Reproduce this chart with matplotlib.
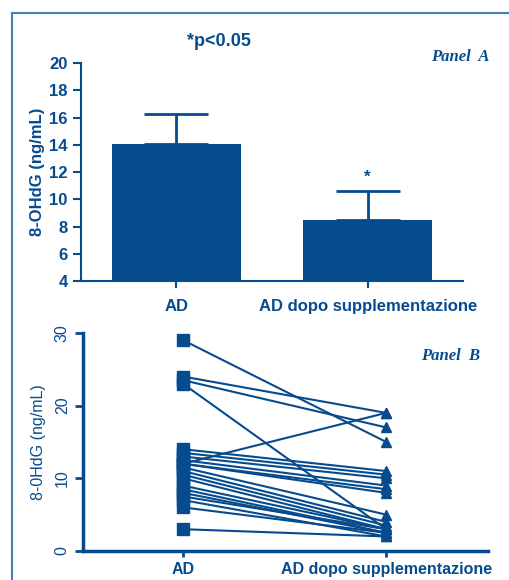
import matplotlib.pyplot as plt
from matplotlib.lines import Line2D

BLUE = "#064b8e"
FRAME = "#4a7dbb"

# Panel A
groups = ["AD", "AD dopo supplementazione"]
means = [14.1, 8.5]
upper_err = [2.2, 2.1]

# Panel B (paired subjects)
ad_vals = [29, 24, 23.5, 23, 12, 14, 13.5, 13, 12.5, 12, 12, 11.5,
           11, 10.5, 10, 9, 8.5, 8, 7.5, 7, 6, 3]
post_vals = [15, 19, 17, 3, 19, 11, 10.5, 10, 9, 8.5, 8, 5,
             4, 3.5, 3, 3, 2.5, 2.5, 3, 2, 2.5, 2]

plt.rcParams['font.family'] = ['Liberation Sans', 'DejaVu Sans']

fig = plt.figure(figsize=(5.09, 5.80), dpi=100)

# frame lines (left and top)
fig.add_artist(Line2D([0.0236, 0.0236], [0.0, 0.978], color=FRAME, lw=1.5,
                      transform=fig.transFigure))
fig.add_artist(Line2D([0.0236, 1.0], [0.978, 0.978], color=FRAME, lw=1.5,
                      transform=fig.transFigure))

# ---- Panel A ----
ax1 = fig.add_axes([0.159, 0.5155, 0.751, 0.3755])
x = [0, 1]
ax1.bar(x, means, width=0.675, color=BLUE, zorder=2)
ax1.errorbar(x, means, yerr=[[0, 0], upper_err], fmt="none", ecolor=BLUE,
             elinewidth=2, capsize=23, capthick=2, zorder=1)
ax1.text(1, means[1] + upper_err[1] + 0.5, "*", color=BLUE, ha="center",
         va="bottom", fontsize=12, fontweight="bold")
ax1.set_xlim(-0.5, 1.5)
ax1.set_ylim(4, 20)
ax1.set_yticks(range(4, 21, 2))
ax1.set_xticks(x)
ax1.set_xticklabels(groups, fontsize=12, fontweight="bold", color=BLUE)
ax1.set_ylabel("8-OHdG (ng/mL)", fontsize=12, fontweight="bold", color=BLUE,
               labelpad=3)
for s in ["top", "right"]:
    ax1.spines[s].set_visible(False)
for s in ["left", "bottom"]:
    ax1.spines[s].set_color(BLUE)
    ax1.spines[s].set_linewidth(1.5)
ax1.tick_params(axis="y", colors=BLUE, labelsize=12, width=1.5, length=6)
ax1.tick_params(axis="x", colors=BLUE, width=1.5, length=5, pad=8)
for lbl in ax1.get_yticklabels():
    lbl.set_fontweight("bold")

fig.text(0.43, 0.928, "*p<0.05", color=BLUE, fontsize=13, fontweight="bold",
         ha="center", va="center")
fig.text(0.905, 0.901, "Panel  A", color=BLUE, fontsize=12, ha="center",
         va="center", family="Liberation Serif", style="italic",
         fontweight="bold")

# ---- Panel B ----
ax2 = fig.add_axes([0.163, 0.05, 0.796, 0.376])
for a, p in zip(ad_vals, post_vals):
    ax2.plot([0, 1], [a, p], color=BLUE, lw=1.5, zorder=1)
ax2.plot([0] * len(ad_vals), ad_vals, "s", color=BLUE, ms=8, zorder=2)
ax2.plot([1] * len(post_vals), post_vals, "^", color=BLUE, ms=7, zorder=2)
ax2.set_xlim(-0.493, 1.502)
ax2.set_ylim(0, 30)
ax2.set_yticks([0, 10, 20, 30])
ax2.set_xticks([0, 1])
ax2.set_xticklabels(groups, fontsize=11.5, fontweight="bold", color=BLUE)
ax2.set_ylabel("8-0HdG (ng/mL)", fontsize=11.5, color=BLUE, labelpad=6)
for s in ["top", "right"]:
    ax2.spines[s].set_visible(False)
for s in ["left", "bottom"]:
    ax2.spines[s].set_color(BLUE)
    ax2.spines[s].set_linewidth(2.5)
ax2.tick_params(axis="y", colors=BLUE, labelsize=11.5, width=2, length=6,
                labelrotation=90)
for lbl in ax2.get_yticklabels():
    lbl.set_va("center")
ax2.tick_params(axis="x", colors=BLUE, width=2, length=4, pad=4)

fig.text(0.885, 0.386, "Panel  B", color=BLUE, fontsize=12, ha="center",
         va="center", family="Liberation Serif", style="italic",
         fontweight="bold")

fig.savefig("out.png", dpi=100)
